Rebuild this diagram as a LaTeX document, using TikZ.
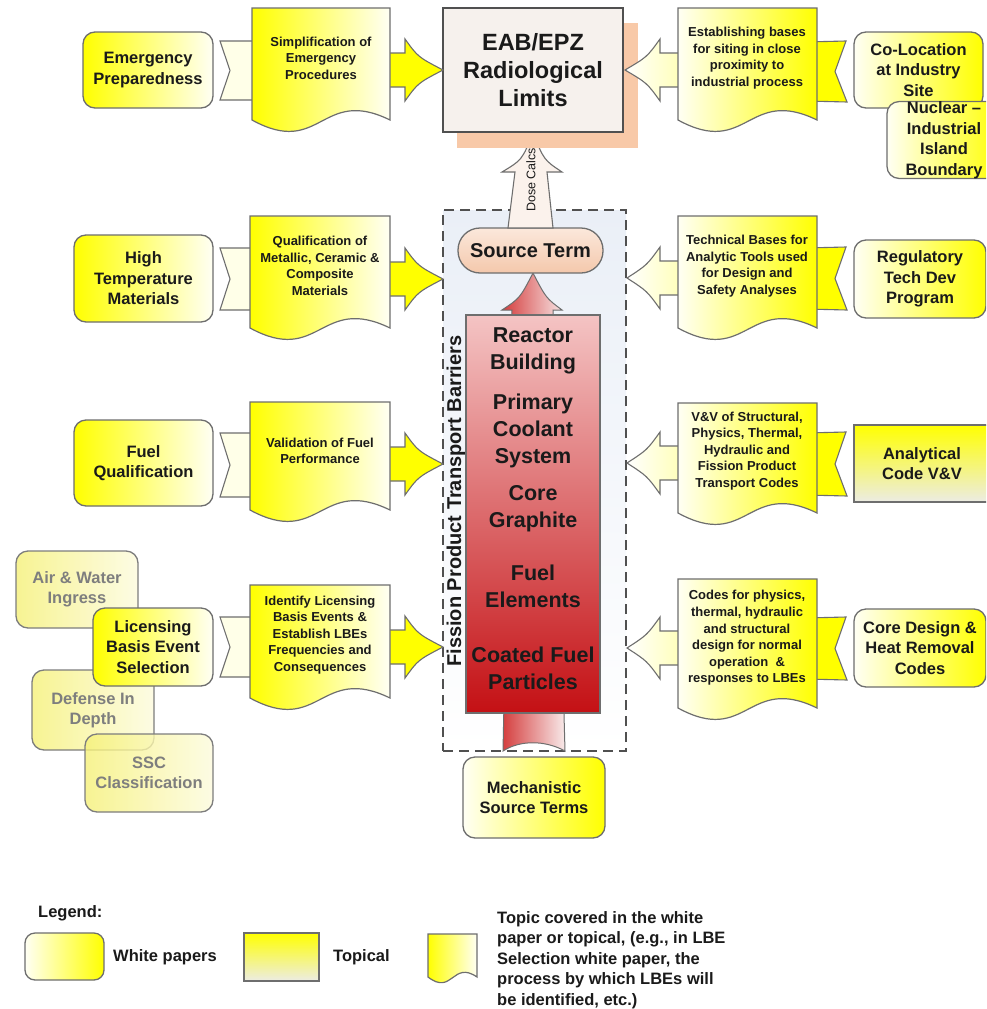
\documentclass[tikz,border=0pt]{standalone}
\usepackage{fontspec}
\setmainfont{Liberation Sans}
\definecolor{yel}{HTML}{FFFF00}
\definecolor{pale}{HTML}{FFFFF4}
\definecolor{bord}{HTML}{6E6E6E}
\definecolor{dbord}{HTML}{505050}
\definecolor{txt}{HTML}{1A1A1A}
\definecolor{fadetxt}{HTML}{7E7E7E}
\definecolor{fadeY}{HTML}{F6F178}
\definecolor{peach}{HTML}{F8C9A8}
\definecolor{eabfill}{HTML}{F6F1ED}
\definecolor{stTop}{HTML}{FBE8DB}
\definecolor{stBot}{HTML}{F4C8AC}
\definecolor{bxTop}{HTML}{EAEFF7}
\definecolor{bxMid}{HTML}{CFDBEA}
\definecolor{stkA}{HTML}{F4C4C4}
\definecolor{stkB}{HTML}{E08A8A}
\definecolor{stkC}{HTML}{C41014}
\definecolor{redL}{HTML}{D43C3C}
\definecolor{redM}{HTML}{EBA2A2}
\definecolor{redR}{HTML}{F8EAEA}
\definecolor{topBot}{HTML}{ECECE4}
\definecolor{doseFill}{HTML}{FBF2EC}
\newcommand\wpfont{\fontsize{16.5}{20.5}\selectfont\bfseries}
\newcommand\docfont{\fontsize{13}{16.6}\selectfont\bfseries}
\newcommand\stkfont{\fontsize{21.5}{26.8}\selectfont\bfseries}
\tikzset{
 bx/.style={draw=bord, line width=1.3pt, inner sep=0pt, align=center, text=txt, font=\wpfont},
 wpL/.style={bx, rounded corners=12pt, left color=yel, right color=pale},
 wpR/.style={bx, rounded corners=12pt, left color=pale, right color=yel},
 fadebox/.style={bx, rounded corners=12pt, draw=bord!90, left color=fadeY, right color=fadeY!25!white, fill opacity=0.8, text=fadetxt, text opacity=1},
 docL/.style={draw=bord, line width=1.2pt, left color=yel, right color=pale},
 docR/.style={draw=bord, line width=1.2pt, left color=pale, right color=yel},
 doctxt/.style={align=center, text=txt, font=\docfont, inner sep=0pt},
 flagLs/.style={draw=bord, line width=1.1pt, fill=yel!9!white},
 flagRs/.style={draw=bord, line width=1.1pt, fill=yel},
 arrRs/.style={draw=bord, line width=1.1pt, fill=yel},
 arrLs/.style={draw=bord, line width=1.1pt, left color=white, right color=yel!32!white},
 stktxt/.style={align=center, text=txt, font=\stkfont, inner sep=0pt},
}
% document shape: x1 y1 x2 y2 amplitude style
\newcommand\docshape[6]{\path[#6] (#1,#2) -- (#3,#2) -- (#3,#4-#5) .. controls ({(#1+#3)/2},#4-3.83*#5) and ({(#1+#3)/2},#4+2.17*#5) .. (#1,#4-#5) -- cycle;}
% right pointing block arrow: xstart xbarb xtip yc
\newcommand\rarr[4]{\path[arrRs] (#1,#4-17) -- (#2,#4-17) -- (#2,#4-31) .. controls (#2+13,#4-13) .. (#3,#4) .. controls (#2+13,#4+13) .. (#2,#4+31) -- (#2,#4+17) -- (#1,#4+17) -- cycle;}
% left pointing block arrow
\newcommand\larr[4]{\path[arrLs] (#1,#4-17) -- (#2,#4-17) -- (#2,#4-31) .. controls (#2-13,#4-13) .. (#3,#4) .. controls (#2-13,#4+13) .. (#2,#4+31) -- (#2,#4+17) -- (#1,#4+17) -- cycle;}
\newcommand\flagLeft[2]{\path[flagLs] (220,#1) -- (265,#1) -- (265,#2) -- (220,#2) -- (230,{(#1+#2)/2}) -- cycle;}
\newcommand\flagRight[2]{\path[flagRs] (805,#1) -- (846,#1-1) -- (835,{(#1+#2)/2}) -- (847,#2+1) -- (805,#2) -- cycle;}
\begin{document}
\begin{tikzpicture}[x=1pt,y=-1pt]
\clip (0,0) rectangle (986,1009);
\fill[white] (0,0) rectangle (986,1009);

% ---------- central column ----------
\node[draw=dbord, line width=2pt, dash pattern=on 10pt off 6pt, top color=bxTop, middle color=bxMid, bottom color=white, minimum width=183, minimum height=541, inner sep=0] (barrier) at (534.5,480.5) {};
\node[rotate=90, font=\fontsize{20}{24}\selectfont\bfseries, text=txt] (fptb) at (456,501) {Fission Product Transport Barriers};

% red source arrow (behind the stack)
\path[draw=bord, line width=1pt, left color=redL, middle color=redM, right color=redR]
  (503,751) .. controls (520,740) and (545,740) .. (565,751) -- (553,310) -- (562,310)
  .. controls (546,298) .. (533,273) .. controls (520,298) .. (502,310) -- (512,310) -- cycle;
\node[draw=bord, line width=1.2pt, top color=stkA, middle color=stkB, bottom color=stkC, minimum width=134, minimum height=398, inner sep=0] (stack) at (533,514) {};
\node[stktxt] (rb) at (533,351) {Reactor\\Building};
\node[stktxt] (pcs) at (533,431) {Primary\\Coolant\\System};
\node[stktxt] (cg) at (533,509) {Core\\Graphite};
\node[stktxt] (fe) at (533,586) {Fuel\\Elements};
\node[stktxt] (cfp) at (533,668) {Coated Fuel\\Particles};

\node[bx, rounded corners=22pt, top color=stTop, bottom color=stBot, minimum width=145, minimum height=45, font=\fontsize{20}{24}\selectfont\bfseries] (st) at (530.5,250.5) {Source Term};

% dose calcs arrow
\path[draw=bord, line width=1.1pt, fill=doseFill] (508,228) -- (515,172) -- (502,172) .. controls (522,160) .. (533,133) .. controls (544,160) .. (562,172) -- (547,172) -- (553,228) -- cycle;
\node[rotate=90, font=\fontsize{12.5}{15}\selectfont, text=txt] (dose) at (531,180) {Dose Calcs};

% EAB box
\fill[peach] (457,23) rectangle (638,148);
\node[bx, draw=dbord, fill=eabfill, minimum width=180, minimum height=124, font=\fontsize{23.5}{28}\selectfont\bfseries] (eab) at (533,70) {EAB/EPZ\\Radiological\\Limits};

\node[wpR, minimum width=142, minimum height=81] (mst) at (534,797.5) {Mechanistic\\Source Terms};

% ---------- left side ----------
\flagLeft{41}{100}
\flagLeft{248}{310}
\flagLeft{433}{497}
\flagLeft{617}{677}
\rarr{380}{405}{443}{70}
\rarr{380}{405}{443}{279}
\rarr{380}{405}{443}{464}
\rarr{380}{405}{443}{647}
\docshape{252}{8}{390}{132}{12}{docL}
\docshape{250}{216}{390}{340}{12}{docL}
\docshape{250}{402}{390}{522}{12}{docL}
\docshape{250}{585}{390}{710}{12}{docL}
\node[doctxt] (tl1) at (321,58) {Simplification of\\Emergency\\Procedures};
\node[doctxt] (tl2) at (320,266) {Qualification of\\Metallic, Ceramic \&\\Composite\\Materials};
\node[doctxt] (tl3) at (320,451) {Validation of Fuel\\Performance};
\node[doctxt] (tl4) at (320,635) {Identify Licensing\\Basis Events \&\\Establish LBEs\\Frequencies and\\Consequences};

\node[wpL, minimum width=130, minimum height=76] (ep) at (148,70) {Emergency\\Preparedness};
\node[wpL, minimum width=139, minimum height=87] (htm) at (143.5,278.5) {High\\Temperature\\Materials};
\node[wpL, minimum width=139, minimum height=86] (fq) at (143.5,463) {Fuel\\Qualification};
\node[fadebox, minimum width=122, minimum height=77] (aw) at (77,589.5) {Air \& Water\\Ingress};
\node[fadebox, minimum width=122, minimum height=80] (did) at (93,710) {Defense In\\Depth};
\node[fadebox, minimum width=128, minimum height=78] (ssc) at (149,773) {SSC\\Classification};
\node[wpL, minimum width=120, minimum height=78] (lbe) at (153,647) {Licensing\\Basis Event\\Selection};

% ---------- right side ----------
\flagRight{42}{101}
\flagRight{248}{309}
\flagRight{433}{495}
\flagRight{618}{679}
\larr{690}{660}{625}{70}
\larr{690}{660}{627}{278}
\larr{690}{660}{627}{463}
\larr{690}{660}{627}{648}
\docshape{678}{8}{817}{132}{12}{docR}
\docshape{678}{216}{817}{340}{12}{docR}
\docshape{678}{403}{817}{525}{12}{docR}
\docshape{678}{579}{817}{720}{12}{docR}
\node[doctxt] (tr1) at (747,58) {Establishing bases\\for siting in close\\proximity to\\industrial process};
\node[doctxt] (tr2) at (747,266) {Technical Bases for\\Analytic Tools used\\for Design and\\Safety Analyses};
\node[doctxt] (tr3) at (747,451) {V\&V of Structural,\\Physics, Thermal,\\Hydraulic and\\Fission Product\\Transport Codes};
\node[doctxt] (tr4) at (747,638) {Codes for physics,\\thermal, hydraulic\\and structural\\design for normal\\operation ~\&\\responses to LBEs};

\node[wpR, minimum width=129, minimum height=76] (col) at (918.5,70) {Co-Location\\at Industry\\Site};
\node[wpR, minimum width=114, minimum height=76] (nib) at (944,140) {Nuclear --\\Industrial\\Island\\Boundary};
\node[wpR, minimum width=132, minimum height=78] (rtd) at (920,279) {Regulatory\\Tech Dev\\Program};
\node[bx, top color=yel, bottom color=topBot, minimum width=136, minimum height=77] (acv) at (922,463.5) {Analytical\\Code V\&V};
\node[wpR, minimum width=132, minimum height=78] (cdh) at (920,648) {Core Design \&\\Heat Removal\\Codes};

% ---------- legend ----------
\node[anchor=west, text=txt, font=\wpfont, inner sep=0] (lg) at (38,913) {Legend:};
\node[wpR, rounded corners=10pt, minimum width=79, minimum height=47] (lgwp) at (64.5,956.5) {};
\node[anchor=west, text=txt, font=\wpfont, inner sep=0] (lgwpt) at (113,957) {White papers};
\node[bx, top color=yel, bottom color=topBot, minimum width=75, minimum height=48] (lgtop) at (281.5,957) {};
\node[anchor=west, text=txt, font=\wpfont, inner sep=0] (lgtopt) at (333,957) {Topical};
\docshape{428}{934}{477}{983}{6}{docL}
\node[anchor=west, align=left, text=txt, font=\wpfont, inner sep=0] (lgdoct) at (497,960) {Topic covered in the white\\paper or topical, (e.g., in LBE\\Selection white paper, the\\process by which LBEs will\\be identified, etc.)};
\end{tikzpicture}
\end{document}
